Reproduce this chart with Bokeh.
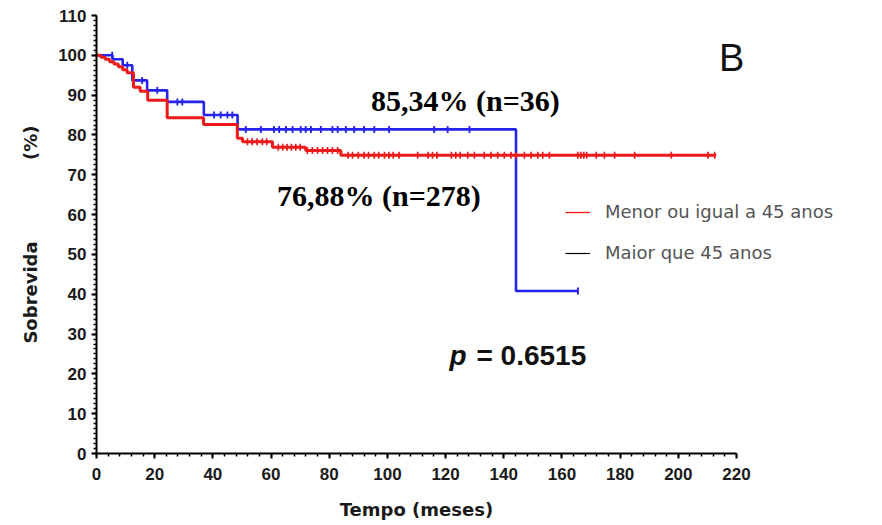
import numpy as np
from bokeh.plotting import figure
from bokeh.models import (Range1d, SingleIntervalTicker, Label, Legend, LegendItem,
                          ColumnDataSource)
from bokeh.embed import file_html
from bokeh.resources import INLINE

# ---------------- data ----------------
# Menor ou igual a 45 anos (red)
red_times = [0, 1.5, 3, 4.5, 6, 7.5, 9, 10.5, 12.7, 15, 17.6, 24.3, 36.8, 48.4, 50.2,
             60.5, 71.9, 84.0, 213]
red_surv = [100, 99.5, 99.0, 98.4, 97.8, 97.1, 96.4, 95.6, 92.0, 91.0, 88.7, 84.3, 82.6,
            79.2, 78.3, 76.9, 76.1, 74.9, 74.9]
red_censor = [51.9, 53.5, 55.2, 57.0, 58.5, 62.5, 64, 65.5, 67, 68.5, 70, 72.5, 74.2, 76,
              77.7, 79.4, 81.1, 82.9, 86.5, 88, 90, 92, 93.5, 95.5, 97, 99, 100.5, 102,
              104, 110.4, 114, 115.5, 117, 122, 123.5, 125, 127.6, 129.9, 133.3, 135.6,
              137.9, 140.2, 142.5, 144.2, 147.1, 149.4, 151.7, 153.4, 155.7, 165.5, 166.5,
              167.5, 168.5, 171.8, 174.6, 178.1, 185, 197.6, 210.2, 212.5]

# Maior que 45 anos (blue)
blue_times = [0, 5.5, 9, 12.3, 17.4, 24.3, 36.9, 48.5, 144.2, 165.5]
blue_surv = [100, 99.0, 97.5, 93.7, 91.2, 88.3, 85.0, 81.4, 40.8, 40.8]
blue_censor = [5.4, 10.6, 15.7, 20.9, 27.8, 29.5, 40.4, 42.7, 45.0, 46.7, 51.3, 56.5, 61.0,
               62.8, 65.1, 67.4, 70.2, 71.9, 73.7, 77.1, 81.1, 82.9, 85.7, 88.6, 92.0,
               95.5, 100.6, 116.1, 120.7, 128.2, 165.5]

series_labels = ["Menor ou igual a 45 anos", "Maior que 45 anos"]
annot_blue = "85,34% (n=36)"
annot_red = "76,88% (n=278)"
p_label = "p"
p_value = "= 0.6515"
panel_letter = "B"

# trailing non-breaking spaces keep the label centred under the 0..220 axis
x_label = "Tempo (meses)" + "\u00a0" * 23
y_label = "Sobrevida" + "\u00a0" * 13 + "(%)"
x_axis_bounds = (0, 220)
y_axis_bounds = (0, 110)


def surv_at(times, surv, t):
    idx = np.searchsorted(np.asarray(times), np.asarray(t), side="right") - 1
    return np.asarray(surv)[idx]


RED = "#ee1a1a"
BLUE = "#2424ee"

# frame spans the whole width so the legend / letter are not clipped;
# the x axis itself is limited to 0..220 through its bounds
p = figure(width=882, height=525, output_backend="svg", toolbar_location=None,
           x_range=Range1d(0, 269.5), y_range=Range1d(0, 110),
           min_border_left=96, min_border_right=2, min_border_top=15,
           min_border_bottom=72)
p.outline_line_color = None
p.grid.visible = False
p.background_fill_color = "white"
p.border_fill_color = "white"

red_src = ColumnDataSource(dict(x=red_times, y=red_surv))
blue_src = ColumnDataSource(dict(x=blue_times, y=blue_surv))
red_c_src = ColumnDataSource(dict(x=red_censor, y=surv_at(red_times, red_surv, red_censor)))
blue_c_src = ColumnDataSource(dict(x=blue_censor, y=surv_at(blue_times, blue_surv, blue_censor)))

# thin legend proxies hidden under the real curves
black_line = p.step("x", "y", source=blue_src, mode="after", line_color="black", line_width=1.2)
black_ticks = p.scatter("x", "y", source=blue_c_src, marker="dash", angle=np.pi / 2, size=5,
                        line_color="black", line_width=1)

blue_line = p.step("x", "y", source=blue_src, mode="after", line_color=BLUE, line_width=2.6)
blue_ticks = p.scatter("x", "y", source=blue_c_src, marker="dash", angle=np.pi / 2, size=7,
                       line_color=BLUE, line_width=1.8)

red_proxy_line = p.step("x", "y", source=red_src, mode="after", line_color=RED, line_width=1.3)
red_proxy_ticks = p.scatter("x", "y", source=red_c_src, marker="dash", angle=np.pi / 2, size=5,
                            line_color=RED, line_width=1)

red_line = p.step("x", "y", source=red_src, mode="after", line_color=RED, line_width=3)
red_ticks = p.scatter("x", "y", source=red_c_src, marker="dash", angle=np.pi / 2, size=7,
                      line_color=RED, line_width=1.6)

# axes
p.xaxis.ticker = SingleIntervalTicker(interval=20, num_minor_ticks=5)
p.yaxis.ticker = SingleIntervalTicker(interval=10, num_minor_ticks=8)
p.xaxis.bounds = x_axis_bounds
p.yaxis.bounds = y_axis_bounds
for ax in (p.xaxis, p.yaxis):
    ax.axis_line_width = 2
    ax.axis_line_color = "black"
    ax.major_tick_line_width = 2
    ax.major_tick_line_color = "black"
    ax.major_tick_out = 5
    ax.major_tick_in = 0
    ax.minor_tick_line_width = 1.5
    ax.minor_tick_line_color = "black"
    ax.minor_tick_out = 3
    ax.minor_tick_in = 0
    ax.major_label_text_font = "Liberation Sans"
    ax.major_label_text_font_style = "bold"
    ax.major_label_text_font_size = "17px"
    ax.major_label_text_color = "#1a1a1a"
    ax.axis_label_text_font = "DejaVu Sans"
    ax.axis_label_text_font_style = "bold"
    ax.axis_label_text_font_size = "18px"
    ax.axis_label_text_color = "#1a1a1a"

p.xaxis.axis_label = x_label
p.yaxis.axis_label = y_label
p.xaxis.major_label_standoff = 9
p.xaxis.axis_label_standoff = 16
p.yaxis.major_label_standoff = 5
p.yaxis.axis_label_standoff = 14

# annotations
p.add_layout(Label(x=126.8, y=88.6, text=annot_blue, text_align="center",
                   text_baseline="middle", text_font="Liberation Serif",
                   text_font_style="bold", text_font_size="30px", text_color="black"))
p.add_layout(Label(x=97.1, y=64.8, text=annot_red, text_align="center",
                   text_baseline="middle", text_font="Liberation Serif",
                   text_font_style="bold", text_font_size="30px", text_color="black"))
p.add_layout(Label(x=127.2, y=24.6, text=p_label, text_align="right",
                   text_baseline="middle", text_font="Liberation Sans",
                   text_font_style="bold italic", text_font_size="28px", text_color="#111111"))
p.add_layout(Label(x=130.6, y=24.6, text=p_value, text_align="left",
                   text_baseline="middle", text_font="Liberation Sans",
                   text_font_style="bold", text_font_size="28px", text_color="#111111"))
p.add_layout(Label(x=218.3, y=99.4, text=panel_letter, text_align="center",
                   text_baseline="middle", text_font="Liberation Sans",
                   text_font_size="38px", text_color="#111111"))

legend = Legend(items=[
    LegendItem(label=series_labels[0], renderers=[red_proxy_line, red_proxy_ticks]),
    LegendItem(label=series_labels[1], renderers=[black_line, black_ticks]),
], location=(469, 190), orientation="vertical")
legend.margin = 0
legend.padding = 0
legend.spacing = 20
legend.glyph_width = 25
legend.glyph_height = 20
legend.label_standoff = 15
legend.label_text_font = "DejaVu Sans"
legend.label_text_font_size = "18px"
legend.label_text_color = "#555555"
legend.border_line_alpha = 0
legend.background_fill_alpha = 0
p.add_layout(legend)

open("out.html", "w").write(file_html(p, INLINE))
